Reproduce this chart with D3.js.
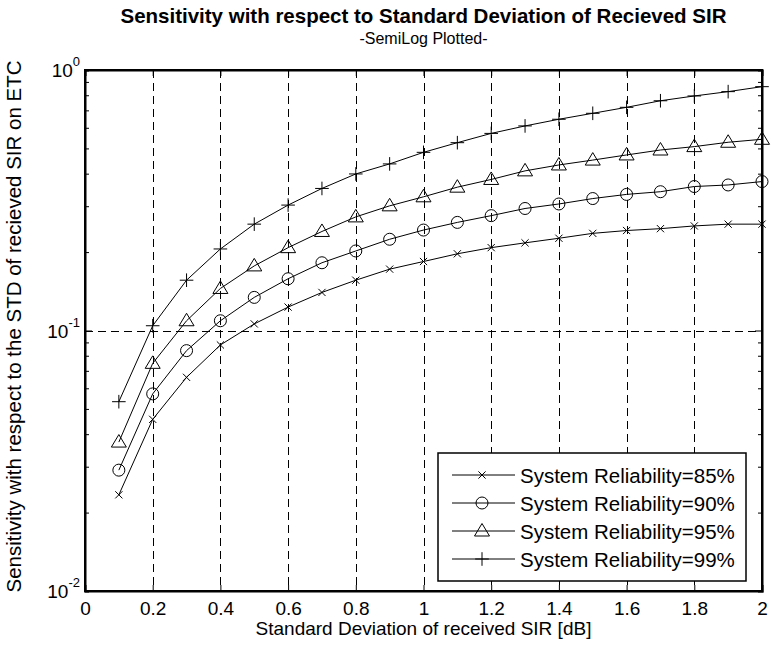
<!DOCTYPE html>
<html><head><meta charset="utf-8">
<script src="https://cdn.jsdelivr.net/npm/d3@7/dist/d3.min.js"></script>
<style>
body{margin:0;background:#fff}
svg text{font-family:"Liberation Sans",Arial,Helvetica,sans-serif;fill:#000}
</style>
</head><body>
<svg id="chart" width="771" height="646"></svg>
<script>
// ---- data ----
const stdDev = [0.1,0.2,0.3,0.4,0.5,0.6,0.7,0.8,0.9,1.0,1.1,1.2,1.3,1.4,1.5,1.6,1.7,1.8,1.9,2.0];
const rel85 = [0.0234,0.0456,0.0661,0.088,0.106,0.123,0.140,0.156,0.172,0.184,0.197,0.208,0.217,0.226,0.236,0.242,0.246,0.252,0.256,0.256];
const rel90 = [0.0291,0.0571,0.0837,0.109,0.134,0.158,0.182,0.202,0.224,0.243,0.260,0.276,0.294,0.306,0.321,0.333,0.341,0.357,0.362,0.373];
const rel95 = [0.0373,0.0748,0.109,0.145,0.177,0.208,0.240,0.273,0.301,0.326,0.355,0.380,0.410,0.432,0.451,0.472,0.493,0.508,0.528,0.542];
const rel99 = [0.0533,0.1043,0.156,0.2056,0.256,0.303,0.351,0.399,0.436,0.483,0.526,0.571,0.610,0.647,0.682,0.719,0.762,0.795,0.826,0.863];
const seriesLabels = ["System Reliability=85%","System Reliability=90%","System Reliability=95%","System Reliability=99%"];
const seriesMarkers = ["x","circle","triangle","plus"];
const xTickValues = [0,0.2,0.4,0.6,0.8,1,1.2,1.4,1.6,1.8,2];
const xTickLabels = ["0","0.2","0.4","0.6","0.8","1","1.2","1.4","1.6","1.8","2"];
const yTickExponents = [0,-1,-2];
const titleText = "Sensitivity with respect to Standard Deviation of Recieved SIR";
const subtitleText = "-SemiLog Plotted-";
const xLabelText = "Standard Deviation of received SIR [dB]";
const yLabelText = "Sensitivity with respect to the STD of recieved SIR on ETC";

// ---- layout ----
const L = 85, R = 762, T = 70, B = 591;
const svg = d3.select("#chart");
const x = d3.scaleLinear().domain([0,2]).range([L,R]);
const y = d3.scaleLog().domain([0.01,1]).range([B,T]);

// grid
const grid = svg.append("g").attr("stroke","#000").attr("stroke-width",1).attr("stroke-dasharray","8,5").attr("fill","none");
xTickValues.slice(1,-1).forEach(v=>{
  grid.append("line").attr("x1",Math.round(x(v))+0.5).attr("x2",Math.round(x(v))+0.5).attr("y1",T).attr("y2",B);
});
grid.append("line").attr("x1",L).attr("x2",R).attr("y1",Math.round(y(0.1))+0.5).attr("y2",Math.round(y(0.1))+0.5);

// axes (ticks pointing inward)
const xAxisB = d3.axisBottom(x).tickValues(xTickValues).tickSize(-6).tickPadding(11).tickFormat((d,i)=>xTickLabels[i]);
const gB = svg.append("g").attr("transform",`translate(0,${B})`).call(xAxisB);
const xAxisT = d3.axisTop(x).tickValues(xTickValues).tickSize(-6).tickFormat("");
svg.append("g").attr("transform",`translate(0,${T})`).call(xAxisT);
const minorY = [];
[-2,-1].forEach(e=>{for(let k=2;k<=9;k++) minorY.push(k*Math.pow(10,e));});
svg.append("g").attr("transform",`translate(${L},0)`).call(d3.axisLeft(y).tickValues(minorY).tickSize(-4).tickFormat(""));
svg.append("g").attr("transform",`translate(${R},0)`).call(d3.axisRight(y).tickValues(minorY).tickSize(-4).tickFormat(""));
svg.append("g").attr("transform",`translate(${L},0)`).call(d3.axisLeft(y).tickValues(yTickExponents.map(e=>Math.pow(10,e))).tickSize(-7).tickFormat("")).select(".domain").remove();
svg.append("g").attr("transform",`translate(${R},0)`).call(d3.axisRight(y).tickValues(yTickExponents.map(e=>Math.pow(10,e))).tickSize(-7).tickFormat("")).select(".domain").remove();
svg.selectAll(".domain").attr("stroke","#000").attr("stroke-width",2);
svg.selectAll(".tick line").attr("stroke","#000").attr("stroke-width",1);
gB.selectAll(".tick text").attr("font-size",19).attr("font-family","Liberation Sans, Arial, sans-serif");
svg.append("rect").attr("x",L).attr("y",T).attr("width",R-L).attr("height",B-T).attr("fill","none").attr("stroke","#000").attr("stroke-width",2);

// y tick labels 10^e
yTickExponents.forEach(e=>{
  const t = svg.append("text").attr("class","ylab").attr("x",0).attr("y",y(Math.pow(10,e))+7).attr("font-size",19);
  t.append("tspan").text("10");
  t.append("tspan").attr("font-size",13).attr("dy",-11).text(e);
  const w = t.node().getBBox().width;
  t.attr("x", L-5-w);
});

// lines and markers
const allSeries = [rel85,rel90,rel95,rel99];
const line = d3.line().x((d,i)=>x(stdDev[i])).y(d=>y(d));
function drawMarker(g, type, cx, cy){
  if(type==="x"){
    const s=3.6;
    g.append("path").attr("d",`M${cx-s},${cy-s}L${cx+s},${cy+s}M${cx-s},${cy+s}L${cx+s},${cy-s}`);
  } else if(type==="circle"){
    g.append("circle").attr("cx",cx).attr("cy",cy).attr("r",6);
  } else if(type==="triangle"){
    g.append("path").attr("d",`M${cx},${cy-7.5}L${cx+7.5},${cy+5}L${cx-7.5},${cy+5}Z`);
  } else {
    const s=6.8;
    g.append("path").attr("d",`M${cx-s},${cy}L${cx+s},${cy}M${cx},${cy-s}L${cx},${cy+s}`);
  }
}
allSeries.forEach((vals,si)=>{
  const g = svg.append("g").attr("stroke","#000").attr("stroke-width",1).attr("fill","none");
  g.append("path").datum(vals).attr("d",line);
  vals.forEach((v,i)=>drawMarker(g, seriesMarkers[si], x(stdDev[i]), y(v)));
});

// legend
const lgX=438, lgY=453, lgW=308, lgH=128;
svg.append("rect").attr("x",lgX).attr("y",lgY).attr("width",lgW).attr("height",lgH).attr("fill","#fff").attr("stroke","#000").attr("stroke-width",1.5);
seriesLabels.forEach((lab,i)=>{
  const cy = lgY + 22 + i*28;
  const g = svg.append("g").attr("stroke","#000").attr("stroke-width",1).attr("fill","none");
  g.append("line").attr("x1",lgX+14).attr("x2",lgX+77).attr("y1",cy).attr("y2",cy);
  drawMarker(g, seriesMarkers[i], lgX+44, cy);
  svg.append("text").attr("x",lgX+82).attr("y",cy+7.5).attr("font-size",20.5).text(lab);
});

// titles
svg.append("text").attr("x",(L+R)/2).attr("y",23).attr("text-anchor","middle").attr("font-size",20.5).attr("font-weight","bold").text(titleText);
svg.append("text").attr("x",(L+R)/2).attr("y",44).attr("text-anchor","middle").attr("font-size",16).text(subtitleText);
svg.append("text").attr("x",(L+R)/2).attr("y",635).attr("text-anchor","middle").attr("font-size",19).text(xLabelText);
svg.append("text").attr("transform",`translate(21,${(T+B)/2 - 4}) rotate(-90)`).attr("text-anchor","middle").attr("font-size",20.5).text(yLabelText);
</script>
</body></html>
